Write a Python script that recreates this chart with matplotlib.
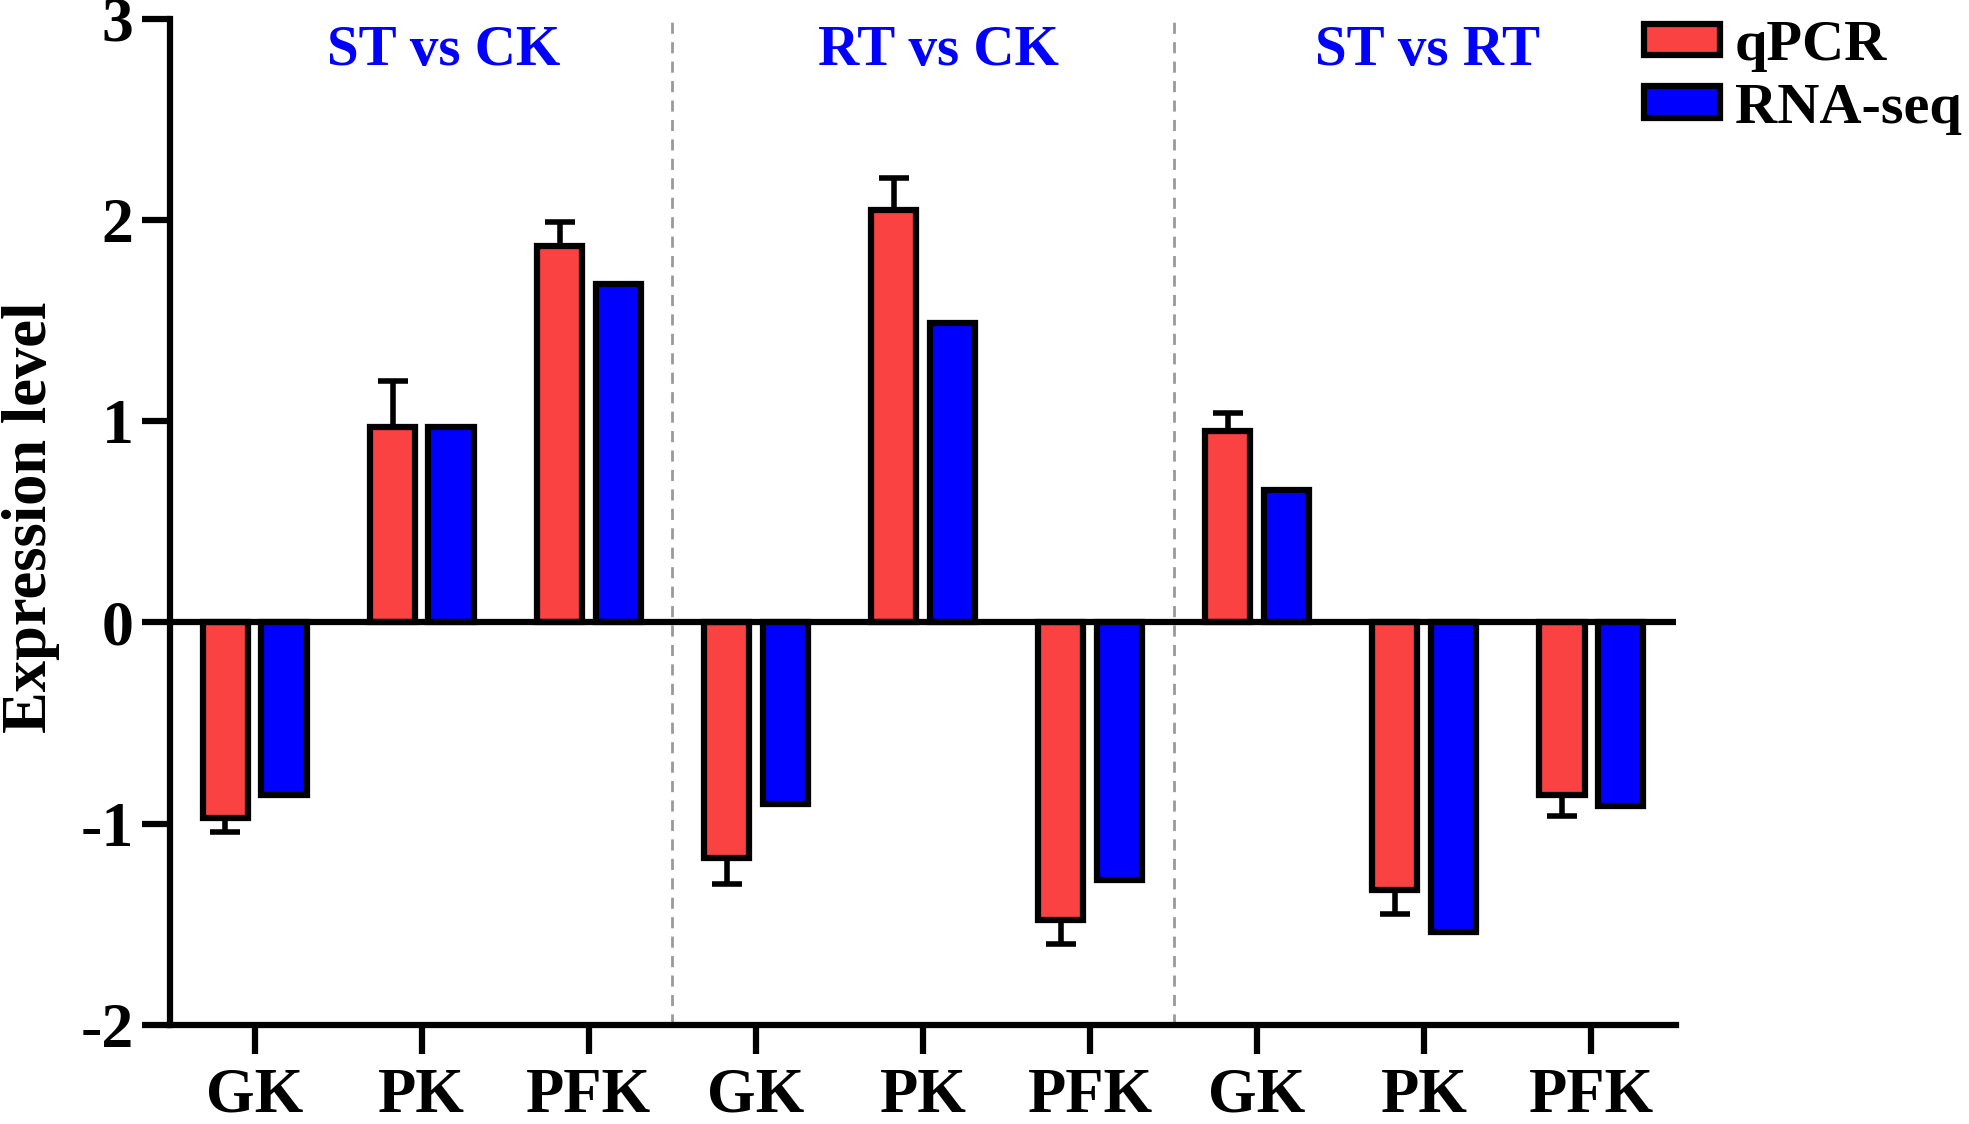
import matplotlib.pyplot as plt
from matplotlib.patches import Patch
import numpy as np

plt.rcParams['font.family'] = ['Liberation Serif', 'DejaVu Serif']
plt.rcParams['font.weight'] = 'bold'

genes = ['GK', 'PK', 'PFK', 'GK', 'PK', 'PFK', 'GK', 'PK', 'PFK']
groups = ['ST vs CK', 'RT vs CK', 'ST vs RT']
qpcr = [-0.97, 0.97, 1.87, -1.17, 2.05, -1.48, 0.95, -1.33, -0.86]
qpcr_err = [0.07, 0.23, 0.12, 0.13, 0.16, 0.12, 0.09, 0.12, 0.10]
rnaseq = [-0.86, 0.97, 1.68, -0.90, 1.49, -1.28, 0.66, -1.54, -0.91]

red = '#FA4242'
blue = '#0000FF'

fig = plt.figure(figsize=(19.69, 11.24), dpi=100)
ax = fig.add_axes([0.0861, 0.0882, 0.7653, 0.8951])

x = np.arange(len(genes))
w = 0.27
off = 0.175
ax.bar(x - off, qpcr, w, color=red, edgecolor='black', linewidth=4.5, zorder=3)
ax.bar(x + off, rnaseq, w, color=blue, edgecolor='black', linewidth=4.5, zorder=3)

# one-sided error bars, pointing away from zero
q = np.array(qpcr)
e = np.array(qpcr_err)
lower = np.where(q < 0, e, 0)
upper = np.where(q > 0, e, 0)
ax.errorbar(x - off, qpcr, yerr=[lower, upper], fmt='none', ecolor='black',
            elinewidth=4, capsize=11, capthick=4, zorder=2)

ax.axhline(0, color='black', linewidth=4.5, zorder=4)
for xv in [2.5, 5.5]:
    ax.plot([xv, xv], [-2, 3], color='#999999', linestyle=(0, (4, 3)), linewidth=2, zorder=1)

title_x = [1.13, 4.09, 7.02]
for tx, g in zip(title_x, groups):
    ax.text(tx, 2.84, g, color=blue, fontsize=41, fontweight='bold',
            ha='center', va='center')

ax.set_xlim(-0.51, 8.51)
ax.set_ylim(-2, 3)
ax.set_xticks(x)
ax.set_xticklabels(genes)
ax.set_yticks([-2, -1, 0, 1, 2, 3])
ax.set_yticklabels(['-2', '-1', '0', '1', '2', '3'])
ax.tick_params(axis='x', length=21, width=4.5, labelsize=45, pad=10)
ax.tick_params(axis='y', length=20, width=4.5, labelsize=46, pad=6)
for s in ['top', 'right']:
    ax.spines[s].set_visible(False)
for s in ['left', 'bottom']:
    ax.spines[s].set_linewidth(4.5)

ax.set_ylabel('Expression level', fontsize=45, fontweight='bold')
ax.yaxis.set_label_coords(-0.073, 0.505)

handles = [Patch(facecolor=red, edgecolor='black', linewidth=4.5, label='qPCR'),
           Patch(facecolor=blue, edgecolor='black', linewidth=4.5, label='RNA-seq')]
fig.legend(handles=handles, loc='upper left', bbox_to_anchor=(0.835, 0.982),
           frameon=False, fontsize=42, handlelength=1.3, handleheight=0.45,
           handletextpad=0.25, labelspacing=0.18, borderpad=0, borderaxespad=0)

fig.savefig('out.png', dpi=100)
